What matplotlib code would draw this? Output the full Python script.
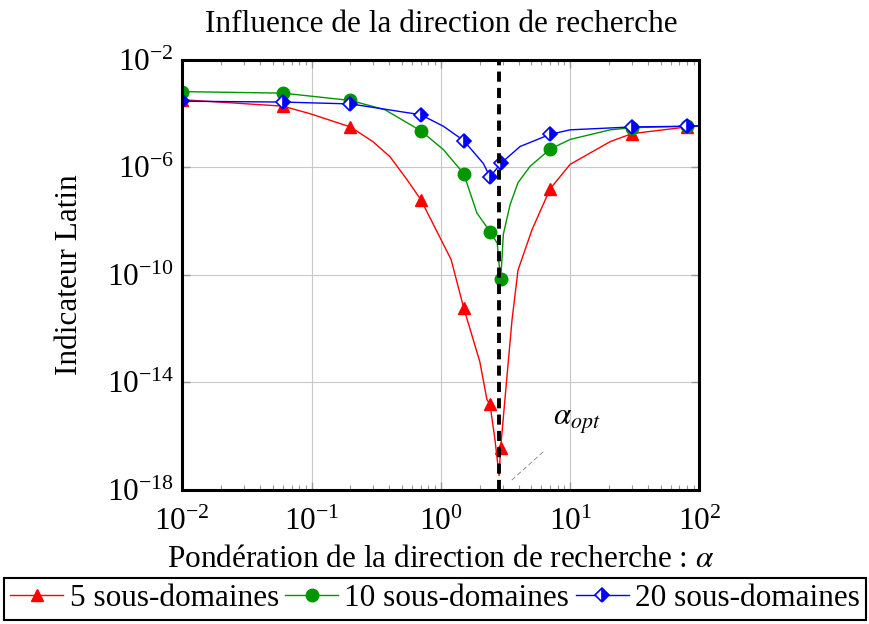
import matplotlib
matplotlib.use("Agg")
import matplotlib.pyplot as plt
from matplotlib.ticker import LogLocator, NullFormatter, NullLocator

plt.rcParams['font.family'] = ['Liberation Serif', 'DejaVu Serif']
plt.rcParams['mathtext.fontset'] = 'stix'

# valeurs
x_5 = [0.01, 0.06, 0.097, 0.2, 0.298, 0.404, 0.547, 0.7, 1.2, 1.5, 2.0, 2.27, 2.4,
       2.62, 2.82, 2.9, 3.23, 3.55, 3.95, 5.07, 7, 10, 20.4, 30, 80, 100]
y_5 = [3.3e-4, 1.9e-4, 1.0e-4, 3.2e-5, 9.1e-6, 2.5e-6, 3.5e-7, 6.3e-8, 3.7e-10, 6.0e-12,
       5.9e-14, 2.3e-15, 1.5e-15, 7.4e-17, 3.4e-18, 3.7e-17, 1.3e-14, 2.1e-12, 1.5e-10,
       4.8e-9, 1.6e-7, 1.3e-6, 9.1e-6, 1.8e-5, 3.2e-5, 3.5e-5]
marks_5 = [0, 1, 3, 7, 9, 12, 15, 20, 23, 24]

x_10 = [0.01, 0.06, 0.2, 0.369, 0.7, 1.045, 1.5, 1.90, 2.4, 2.73, 2.83, 2.9, 2.96,
        3.04, 3.43, 3.95, 4.90, 7, 10, 20.4, 30, 80, 100]
y_10 = [6.6e-4, 5.8e-4, 3.1e-4, 1.4e-4, 2.3e-5, 4.6e-6, 5.9e-7, 2.0e-8, 4.1e-9, 1.5e-9,
        2.1e-10, 7.1e-11, 3.1e-10, 3.2e-9, 4.1e-8, 2.7e-7, 1.1e-6, 4.8e-6, 1.1e-5,
        2.5e-5, 3.0e-5, 3.4e-5, 3.5e-5]
marks_10 = [0, 1, 2, 4, 6, 8, 11, 17, 20, 21]

x_20 = [0.01, 0.06, 0.2, 0.7, 1.045, 1.5, 2.13, 2.4, 2.9, 4.10, 7, 10, 30, 80, 100]
y_20 = [2.9e-4, 2.7e-4, 2.3e-4, 9.1e-5, 3.4e-5, 1.0e-5, 1.4e-6, 4.4e-7, 1.4e-6, 6.0e-6,
        1.7e-5, 2.5e-5, 3.2e-5, 3.4e-5, 3.5e-5]
marks_20 = [0, 1, 2, 3, 5, 7, 8, 10, 12, 13]

alpha_opt = 2.8

fs = 22.5

fig = plt.figure(figsize=(8.7, 6.24), dpi=100)
ax = fig.add_axes([0.2095, 0.215, 0.5945, 0.689])

ax.plot(x_5, y_5, color='red', lw=1.0, marker='^', markersize=8.5,
        markevery=marks_5, label='5 sous-domaines')
ax.plot(x_10, y_10, color='#009600', lw=1.0, marker='o', markersize=9,
        markevery=marks_10, label='10 sous-domaines')
ax.plot(x_20, y_20, color='blue', lw=1.0, marker='D', markersize=7.5,
        markevery=marks_20, fillstyle='right', markerfacecoloralt='white',
        markeredgewidth=1.2, label='20 sous-domaines')

ax.axvline(alpha_opt, color='black', lw=2.8, ls=(0, (2.6, 1.6)))

ax.set_xscale('log')
ax.set_yscale('log')
ax.set_xlim(1e-2, 1e2)
ax.set_ylim(1e-18, 1e-2)
ax.set_yticks([1e-18, 1e-14, 1e-10, 1e-6, 1e-2])
ax.yaxis.set_minor_locator(NullLocator())
ax.xaxis.set_minor_locator(LogLocator(base=10, subs=range(2, 10), numticks=20))
ax.xaxis.set_minor_formatter(NullFormatter())

ax.grid(True, which='major', color='#c8c8c8', lw=0.8)
ax.tick_params(which='both', direction='in', top=True, right=True, color='#999999',
               labelsize=fs)
ax.tick_params(which='major', length=6, width=1.0, pad=6)
ax.tick_params(axis='x', which='major', pad=13)
ax.tick_params(which='minor', length=3.5, width=0.8)
for s in ax.spines.values():
    s.set_linewidth(2.2)

ax.set_title('Influence de la direction de recherche', fontsize=fs, pad=20)
ax.set_xlabel(r'Pondération de la direction de recherche : $\alpha$', fontsize=fs, labelpad=6)
ax.set_ylabel('Indicateur Latin', fontsize=fs, labelpad=16)

ax.annotate(r'$\alpha_{opt}$', xy=(3.53, 2.3e-18), xytext=(7.35, 3.4e-16),
            fontsize=fs, va='center', ha='left',
            arrowprops=dict(arrowstyle='-', color='gray', lw=0.6, ls=(0, (5, 4)),
                            shrinkA=14, shrinkB=0))

fig.legend(loc='lower center', bbox_to_anchor=(0.5, 0.002), ncol=3, fontsize=fs,
           frameon=True, fancybox=False, edgecolor='black', framealpha=1,
           handlelength=1.7, handletextpad=0.2, columnspacing=0.2, borderpad=0.2,
           borderaxespad=0.1, numpoints=1).get_frame().set_linewidth(1.5)

fig.savefig('out.png', dpi=100)
